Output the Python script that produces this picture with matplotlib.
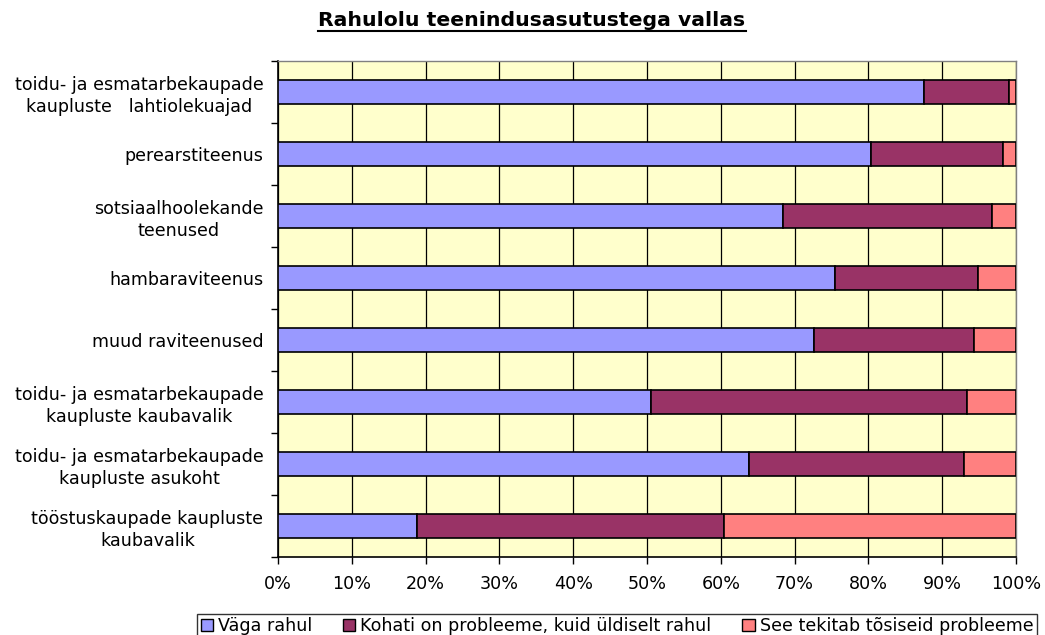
import matplotlib
matplotlib.use("Agg")
import matplotlib.pyplot as plt
import numpy as np
from matplotlib.patches import Patch
from matplotlib.lines import Line2D

categories = [
    "toidu- ja esmatarbekaupade\nkaupluste   lahtiolekuajad",
    "perearstiteenus",
    "sotsiaalhoolekande\nteenused",
    "hambaraviteenus",
    "muud raviteenused",
    "toidu- ja esmatarbekaupade\nkaupluste kaubavalik",
    "toidu- ja esmatarbekaupade\nkaupluste asukoht",
    "tööstuskaupade kaupluste\nkaubavalik",
]
vaga_rahul = [87.6, 80.4, 68.4, 75.5, 72.6, 50.5, 63.8, 18.8]
kohati = [11.4, 17.8, 28.4, 19.4, 21.7, 42.8, 29.2, 41.7]
tosiseid = [1.0, 1.8, 3.2, 5.1, 5.7, 6.7, 7.0, 39.5]
series_names = ["Väga rahul", "Kohati on probleeme, kuid üldiselt rahul", "See tekitab tõsiseid probleeme"]
colors = ["#9999FF", "#993366", "#FF8080"]
xtick_labels = ["0%", "10%", "20%", "30%", "40%", "50%", "60%", "70%", "80%", "90%", "100%"]

plt.rcParams['font.family'] = ['DejaVu Sans']
FS = 12.6

fig = plt.figure(figsize=(10.45, 6.35), dpi=100)
ax = fig.add_axes([278/1045, 1-557/635, (1016-278)/1045, (557-61)/635])
ax.set_facecolor("#FFFFCC")

y = np.arange(len(categories))
left = np.zeros(len(categories))
for vals, c, name in zip([vaga_rahul, kohati, tosiseid], colors, series_names):
    vals = np.array(vals)
    ax.barh(y, vals, left=left, height=0.39, color=c, edgecolor="black", linewidth=1.2, label=name, zorder=3)
    left += vals

ax.set_xlim(0, 100)
ax.set_ylim(len(categories)-0.5, -0.5)
ax.set_xticks(np.arange(0, 101, 10))
ax.set_xticklabels(xtick_labels, fontsize=FS)
ax.xaxis.grid(True, color="black", linewidth=0.9, zorder=1)
ax.set_axisbelow(True)

ax.set_yticks(y)
ax.set_yticklabels(categories, fontsize=FS, linespacing=1.25)
for lab in ax.get_yticklabels():
    lab.set_multialignment("center")
ax.tick_params(axis='y', which='major', length=0, pad=10.5)
ax.set_yticks(np.arange(-0.5, len(categories)), minor=True)
ax.tick_params(axis='y', which='minor', length=5, width=1, color="black", direction="out")
ax.tick_params(axis='x', which='major', length=5, width=1, color="black", direction="out", pad=8)

for s in ["left", "bottom"]:
    ax.spines[s].set_color("black")
    ax.spines[s].set_linewidth(1.2)
for s in ["top", "right"]:
    ax.spines[s].set_color("#808080")
    ax.spines[s].set_linewidth(1.0)

# Title with underline
t = fig.text(532/1045, 1-21/635, "Rahulolu teenindusasutustega vallas", ha="center", va="center",
             fontsize=14.7, fontweight="bold")
fig.canvas.draw()
bb = t.get_window_extent(renderer=fig.canvas.get_renderer())
uy = (bb.y0 - 0.5) / fig.bbox.height
fig.add_artist(Line2D([bb.x0/fig.bbox.width, bb.x1/fig.bbox.width], [uy, uy],
                      transform=fig.transFigure, color="black", linewidth=1.5))

handles = [Patch(facecolor=c, edgecolor="black", linewidth=1.0) for c in colors]
leg = fig.legend(handles, series_names, loc="lower center", bbox_to_anchor=(617/1045, -0.006),
                 ncol=3, fontsize=FS, frameon=True, fancybox=False, edgecolor="black",
                 handlelength=0.7, handleheight=0.7, handletextpad=0.3, columnspacing=1.75,
                 borderpad=0.2, borderaxespad=0.0)
leg.get_frame().set_linewidth(1.0)

fig.savefig("out.png", dpi=100)
